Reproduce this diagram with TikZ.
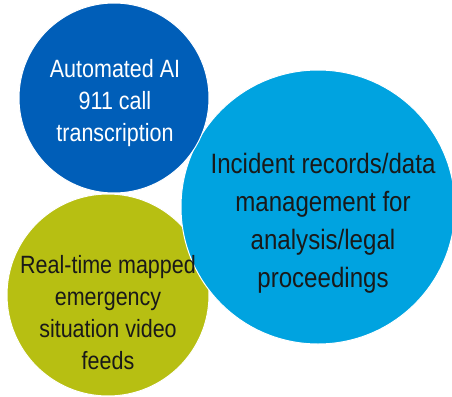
\documentclass[tikz,border=0pt]{standalone}
\usepackage{fontspec}
\setmainfont{Liberation Sans}[FakeStretch=0.86]
\usepackage{xcolor}
\usepackage{tikz}
\usetikzlibrary{positioning}

\definecolor{callblue}{RGB}{0,94,184}
\definecolor{recordblue}{RGB}{0,163,224}
\definecolor{videogreen}{RGB}{183,191,18}

\begin{document}
\begin{tikzpicture}[x=1pt,y=-1pt,
                    bubble/.style={circle,draw=white,line width=1pt,inner sep=0pt},
                    caption/.style={align=center,inner sep=0pt,text=black!90}]
    \useasboundingbox (0,0) rectangle (452,396);

    \node[bubble,fill=videogreen,minimum size=202pt] (video) at (108,295) {};
    \node[bubble,fill=recordblue,minimum size=274pt] (records) at (318,207) {};
    \node[bubble,fill=callblue,minimum size=190pt] (call) at (114,98) {};

    \node[caption,text=white,font=\fontsize{25}{32}\selectfont]
        (calltext) at ([xshift=1pt,yshift=-5pt]call.center)
        {Automated AI\\911 call\\transcription};
    \node[caption,font=\fontsize{28}{38}\selectfont]
        (recordstext) at ([xshift=5pt,yshift=-16pt]records.center)
        {Incident records/data\\management for\\analysis/legal\\proceedings};
    \node[caption,font=\fontsize{25}{32}\selectfont]
        (videotext) at ([yshift=-18pt]video.center)
        {Real-time mapped\\emergency\\situation video\\feeds};
\end{tikzpicture}
\end{document}
